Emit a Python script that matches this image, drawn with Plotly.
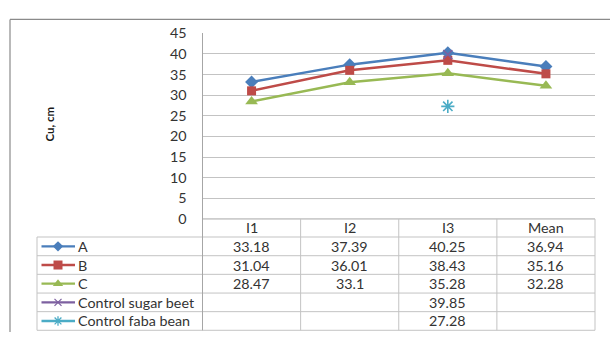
import plotly.graph_objects as go

# ---- data ----
categories = ["I1", "I2", "I3", "Mean"]
series_names = ["A", "B", "C", "Control sugar beet", "Control faba bean"]
vals_a = [33.18, 37.39, 40.25, 36.94]
vals_b = [31.04, 36.01, 38.43, 35.16]
vals_c = [28.47, 33.1, 35.28, 32.28]
vals_sugar_beet = [None, None, 39.85, None]
vals_faba_bean = [None, None, 27.28, None]
y_ticks = [0, 5, 10, 15, 20, 25, 30, 35, 40, 45]

W, H = 610, 340
FONT = "Lato, 'Open Sans', sans-serif"
FS = 14.3
TXT = "#333333"
GRID = "#c3c3c3"

def px(x):
    return x / W

def py(y):
    return 1 - y / H

# plot area in pixels
PL, PR, PT, PB = 202.5, 595, 25.5, 221

styles = [
    dict(color="#4a7ebb", symbol="diamond", size=10, key=8, lw=0),
    dict(color="#be4b48", symbol="square", size=9, key=9, lw=0),
    dict(color="#98b954", symbol="triangle-up", size=11, key=9, lw=0),
    dict(color="#7d60a0", symbol="x-thin-open", size=9, key=7, lw=1.5),
    dict(color="#4bacc6", symbol="asterisk-open", size=11, key=8, lw=1.6),
]
all_vals = [vals_a, vals_b, vals_c, vals_sugar_beet, vals_faba_bean]

fig = go.Figure()
for name, vals, st in zip(series_names, all_vals, styles):
    marker = dict(color=st["color"], symbol=st["symbol"], size=st["size"])
    if st["lw"]:
        marker["line"] = dict(color=st["color"], width=st["lw"])
    fig.add_trace(go.Scatter(
        x=categories, y=vals, name=name, mode="lines+markers",
        line=dict(color=st["color"], width=2.5), marker=marker,
        connectgaps=False, showlegend=False, cliponaxis=False,
    ))

# legend keys inside the data table (overlay axis in pixel units)
row_edges = [221, 240, 259.7, 279.3, 299, 318.6, 338.2]
row_centers = [(row_edges[i] + row_edges[i + 1]) / 2 for i in range(len(row_edges) - 1)]
TL = 37  # left edge of the table legend column
for i, (name, st) in enumerate(zip(series_names, styles)):
    yc = row_centers[i + 1]
    marker = dict(color=st["color"], symbol=st["symbol"], size=st["key"])
    if st["lw"]:
        marker["line"] = dict(color=st["color"], width=st["lw"] - 0.3)
    fig.add_trace(go.Scatter(
        x=[41.5, 58, 75], y=[yc, yc, yc], mode="lines",
        line=dict(color=st["color"], width=2.3),
        xaxis="x2", yaxis="y2", showlegend=False, hoverinfo="skip",
    ))
    fig.add_trace(go.Scatter(
        x=[58], y=[yc], mode="markers", marker=marker,
        xaxis="x2", yaxis="y2", showlegend=False, hoverinfo="skip",
    ))

shapes = []
# chart area border (top and left edges; the rest runs off the page)
shapes.append(dict(type="line", xref="paper", yref="paper",
                   x0=px(10), x1=1, y0=py(11), y1=py(11),
                   line=dict(color="#8a8a8a", width=1.2)))
shapes.append(dict(type="line", xref="paper", yref="paper",
                   x0=px(10), x1=px(10), y0=py(11), y1=0,
                   line=dict(color="#8a8a8a", width=1.2)))

col_w = (PR - PL) / len(categories)
col_x = [PL + k * col_w for k in range(len(categories) + 1)]

# table horizontal lines
shapes.append(dict(type="line", xref="paper", yref="paper",
                   x0=px(PL), x1=px(PR), y0=py(PB), y1=py(PB),
                   line=dict(color="#a6a6a6", width=1)))
for ye in row_edges[1:]:
    shapes.append(dict(type="line", xref="paper", yref="paper",
                       x0=px(TL), x1=px(PR), y0=py(ye), y1=py(ye),
                       line=dict(color=GRID, width=1)))
# table vertical lines
for k, xv in enumerate(col_x):
    shapes.append(dict(type="line", xref="paper", yref="paper",
                       x0=px(xv), x1=px(xv), y0=py(PB), y1=py(row_edges[-1]),
                       line=dict(color=GRID if k else "#a6a6a6", width=1)))
shapes.append(dict(type="line", xref="paper", yref="paper",
                   x0=px(TL), x1=px(TL), y0=py(row_edges[1]), y1=py(row_edges[-1]),
                   line=dict(color=GRID, width=1)))

annotations = []
for k, cat in enumerate(categories):
    annotations.append(dict(x=k, y=py(row_centers[0]), xref="x", yref="paper",
                            text=cat, showarrow=False, yanchor="middle",
                            font=dict(size=FS, color=TXT, family=FONT)))
for i, (name, vals) in enumerate(zip(series_names, all_vals)):
    yc = py(row_centers[i + 1])
    annotations.append(dict(x=px(75.5), y=yc, xref="paper", yref="paper",
                            text=name, showarrow=False, xanchor="left",
                            yanchor="middle",
                            font=dict(size=FS, color=TXT, family=FONT)))
    for k, v in enumerate(vals):
        if v is None:
            continue
        annotations.append(dict(x=k, y=yc, xref="x", yref="paper",
                                text=f"{v:g}", showarrow=False,
                                yanchor="middle",
                                font=dict(size=FS, color=TXT, family=FONT)))
annotations.append(dict(x=px(41), y=py(121), xref="paper", yref="paper",
                        text="<b>Cu, cm</b>", showarrow=False, textangle=-90,
                        font=dict(size=11.5, color="#1a1a1a", family=FONT)))

fig.update_layout(
    width=W, height=H, margin=dict(l=0, r=0, t=0, b=0),
    paper_bgcolor="white", plot_bgcolor="rgba(0,0,0,0)",
    xaxis=dict(domain=[px(PL), px(PR)], range=[-0.5, 3.5], type="category",
               showticklabels=False, showgrid=False, zeroline=False,
               showline=False, ticks=""),
    yaxis=dict(domain=[py(PB), py(PT)], range=[0, 45], tickvals=y_ticks,
               showgrid=True, gridcolor=GRID, gridwidth=1, zeroline=False,
               showline=True, linecolor="#a6a6a6", linewidth=1, ticks="",
               ticklabelstandoff=12,
               tickfont=dict(size=FS, color=TXT, family=FONT)),
    xaxis2=dict(domain=[0, 1], range=[0, W], visible=False, anchor="y2"),
    yaxis2=dict(domain=[0, 1], range=[H, 0], visible=False, anchor="x2"),
    shapes=shapes, annotations=annotations,
)

fig.write_html("out.html")
